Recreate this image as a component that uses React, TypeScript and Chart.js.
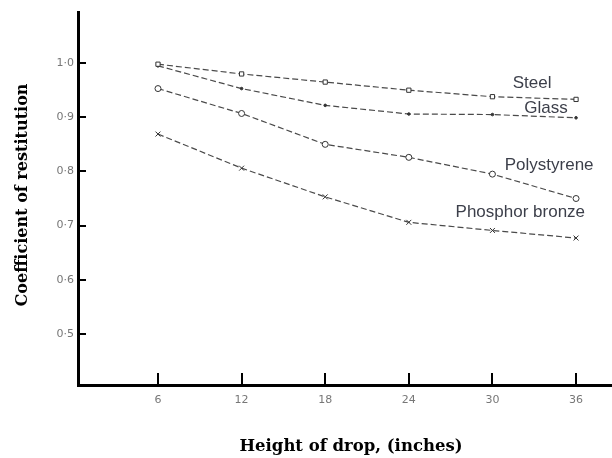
import React, { useEffect, useRef } from "react";
import { Chart, registerables } from "chart.js";

Chart.register(...registerables);

const heights = [6, 12, 18, 24, 30, 36];
const steel = [0.998, 0.98, 0.965, 0.95, 0.938, 0.933];
const glass = [0.995, 0.953, 0.922, 0.906, 0.905, 0.899];
const polystyrene = [0.953, 0.907, 0.85, 0.826, 0.795, 0.75];
const phosphorBronze = [0.869, 0.806, 0.753, 0.706, 0.691, 0.677];
const yTicks = [0.5, 0.6, 0.7, 0.8, 0.9, 1.0];
const yTickLabels = ["0·5", "0·6", "0·7", "0·8", "0·9", "1·0"];
const xTicks = [6, 12, 18, 24, 30, 36];
const seriesNames = ["Steel", "Glass", "Polystyrene", "Phosphor bronze"];
const labelAnchorX = [32.85, 33.85, 34.07, 32.0];
const labelAnchorY = [0.963, 0.917, 0.811, 0.724];

const LINE = "#4a4a4a";

function fitText(ctx: CanvasRenderingContext2D, text: string, cx: number, cy: number, target: number, rot: number) {
  ctx.save();
  ctx.translate(cx, cy);
  ctx.rotate(rot);
  const w = ctx.measureText(text).width;
  ctx.scale(target / w, 1);
  ctx.fillText(text, 0, 0);
  ctx.restore();
}

const overlay = {
  id: "overlay",
  afterDraw(chart: any) {
    const { ctx, scales } = chart;
    const x = scales.x;
    const y = scales.y;
    const bottom = y.bottom;
    const left = x.left;
    ctx.save();
    ctx.fillStyle = "#000";
    xTicks.forEach((v) => {
      const px = Math.round(x.getPixelForValue(v));
      ctx.fillRect(px - 1, bottom - 12, 2, 12);
    });
    yTicks.forEach((v) => {
      const py = Math.round(y.getPixelForValue(v));
      ctx.fillRect(left, py - 1, 8, 2);
    });
    // series labels
    ctx.fillStyle = "#3c3f4a";
    ctx.font = "17px 'Liberation Sans'";
    ctx.textAlign = "center";
    ctx.textBaseline = "middle";
    seriesNames.forEach((n, i) => {
      ctx.fillText(n, x.getPixelForValue(labelAnchorX[i]), y.getPixelForValue(labelAnchorY[i]));
    });
    // axis titles
    ctx.fillStyle = "#000";
    ctx.font = "bold 16px 'DejaVu Serif'";
    fitText(ctx, "Height of drop, (inches)", 351, 447, 223, 0);
    fitText(ctx, "Coefficient of restitution", 23, 195, 223, -Math.PI / 2);
    ctx.restore();
  },
};

export default function App() {
  const ref = useRef<HTMLCanvasElement>(null);
  useEffect(() => {
    document.body.style.margin = "0";
    const mk = (label: string, data: number[], style: string, r: number, fill: boolean) => ({
      label,
      data: heights.map((h, i) => ({ x: h, y: data[i] })),
      borderColor: LINE,
      borderWidth: 1.2,
      borderDash: [6, 3],
      pointStyle: style,
      pointRadius: r,
      pointBorderColor: "#333",
      pointBorderWidth: 1,
      pointBackgroundColor: fill ? "#333" : "#fff",
      showLine: true,
      tension: 0,
    });
    const chart = new Chart(ref.current!, {
      type: "scatter",
      data: {
        datasets: [
          mk("Steel", steel, "rect", 3, false),
          mk("Glass", glass, "circle", 1.3, true),
          mk("Polystyrene", polystyrene, "circle", 3, false),
          mk("Phosphor bronze", phosphorBronze, "crossRot", 3.5, false),
        ],
      },
      options: {
        animation: false,
        responsive: false,
        layout: { autoPadding: false, padding: { top: 12, right: 0, left: 0, bottom: 0 } },
        plugins: { legend: { display: false }, tooltip: { enabled: false } },
        scales: {
          x: {
            type: "linear",
            min: 0.26,
            max: 38.58,
            afterFit: (s: any) => { s.height = 73; },
            afterBuildTicks: (s: any) => { s.ticks = xTicks.map((v) => ({ value: v })); },
            grid: { display: true, drawOnChartArea: false, drawTicks: false },
            border: { display: true, color: "#000", width: 3 },
            ticks: {
              color: "#777",
              font: { family: "DejaVu Sans", size: 11 },
              padding: 9,
              callback: (v: any) => String(v),
            },
          },
          y: {
            type: "linear",
            min: 0.4056,
            max: 1.0944,
            afterFit: (s: any) => { s.width = 78; },
            afterBuildTicks: (s: any) => { s.ticks = yTicks.map((v) => ({ value: v })); },
            grid: { display: true, drawOnChartArea: false, drawTicks: false },
            border: { display: true, color: "#000", width: 3 },
            ticks: {
              color: "#777",
              font: { family: "DejaVu Sans", size: 11 },
              padding: 4,
              callback: (v: any) => {
                const i = yTicks.findIndex((t) => Math.abs(t - v) < 1e-6);
                return i >= 0 ? yTickLabels[i] : "";
              },
            },
          },
        },
      },
      plugins: [overlay],
    });
    return () => chart.destroy();
  }, []);
  return (
    <div style={{ width: 612, height: 458 }}>
      <canvas ref={ref} width={612} height={458} />
    </div>
  );
}
